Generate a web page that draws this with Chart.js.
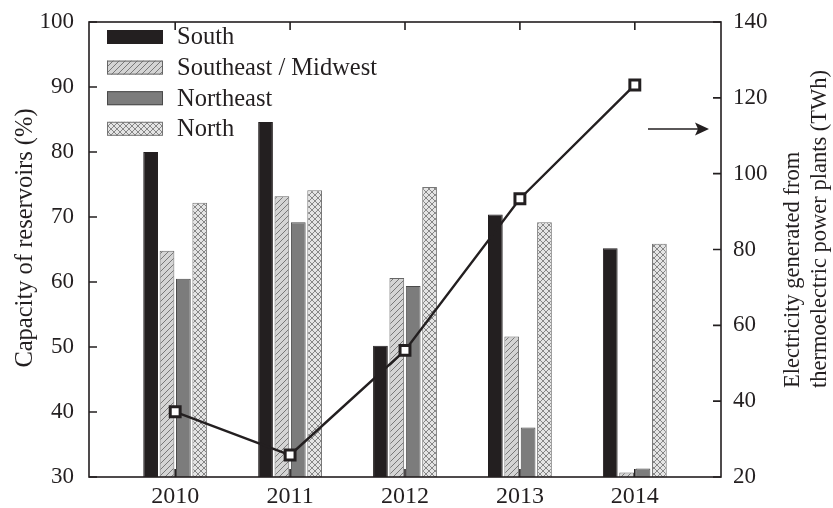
<!DOCTYPE html>
<html>
<head>
<meta charset="utf-8">
<script src="https://cdn.jsdelivr.net/npm/chart.js@4.4.1/dist/chart.umd.min.js"></script>
<style>
  html, body { margin: 0; padding: 0; background: #fff; }
  #wrap { width: 833px; height: 508px; }
</style>
</head>
<body>
<div id="wrap"><canvas id="chart" width="833" height="508"></canvas></div>
<script>
// Chart data
const years = [2010, 2011, 2012, 2013, 2014];
const south = [80.0, 84.6, 50.2, 70.4, 65.2];
const southeastMidwest = [64.8, 73.2, 60.6, 51.6, 30.7];
const northeast = [60.5, 69.2, 59.4, 37.6, 31.3];
const north = [72.2, 74.1, 74.6, 69.2, 65.9];
const thermoTWh = [37.2, 25.8, 53.4, 93.4, 123.4];

const leftTicks = [30, 40, 50, 60, 70, 80, 90, 100];
const rightTicks = [20, 40, 60, 80, 100, 120, 140];

const ink = '#231f20';
const serif = '"Liberation Serif", "Times New Roman", serif';

// Fill patterns for hatched bars
function makePattern(bg, line, cross) {
    const c = document.createElement('canvas');
    c.width = 6; c.height = 6;
    const g = c.getContext('2d');
    g.fillStyle = bg;
    g.fillRect(0, 0, 6, 6);
    g.strokeStyle = line;
    g.lineWidth = 0.9;
    g.beginPath();
    g.moveTo(-1, 7); g.lineTo(7, -1);
    g.moveTo(-1, 1); g.lineTo(1, -1);
    g.moveTo(5, 7); g.lineTo(7, 5);
    if (cross) {
        g.moveTo(-1, -1); g.lineTo(7, 7);
        g.moveTo(5, -1); g.lineTo(7, 1);
        g.moveTo(-1, 5); g.lineTo(1, 7);
    }
    g.stroke();
    return g.createPattern(c, 'repeat');
}

const hatch = makePattern('#d4d4d4', '#6d6d6d', false);
const crossHatch = makePattern('#e4e4e4', '#7a7a7a', true);

const toPoints = arr => arr.map((v, i) => ({ x: years[i], y: v }));

const seriesStyles = [
    { label: 'South', data: south, fill: ink, border: ink },
    { label: 'Southeast / Midwest', data: southeastMidwest, fill: hatch, border: '#666' },
    { label: 'Northeast', data: northeast, fill: '#7c7c7c', border: '#4a4a4a' },
    { label: 'North', data: north, fill: crossHatch, border: '#777' }
];

// Frame, inward ticks, axis titles, legend and arrow
const decorations = {
    id: 'decorations',
    afterDraw(chart) {
        const { ctx, chartArea: a, scales } = chart;
        ctx.save();
        ctx.strokeStyle = ink;
        ctx.lineWidth = 1.6;
        ctx.strokeRect(a.left, a.top, a.right - a.left, a.bottom - a.top);

        ctx.beginPath();
        leftTicks.forEach(v => {
            const y = scales.y.getPixelForValue(v);
            ctx.moveTo(a.left, y); ctx.lineTo(a.left + 8, y);
        });
        rightTicks.forEach(v => {
            const y = scales.y1.getPixelForValue(v);
            ctx.moveTo(a.right, y); ctx.lineTo(a.right - 8, y);
        });
        years.forEach(v => {
            const x = scales.x.getPixelForValue(v);
            ctx.moveTo(x, a.bottom); ctx.lineTo(x, a.bottom - 8);
            ctx.moveTo(x, a.top); ctx.lineTo(x, a.top + 8);
        });
        ctx.stroke();

        // axis titles
        ctx.fillStyle = ink;
        ctx.textBaseline = 'middle';
        ctx.save();
        ctx.font = '24.5px ' + serif;
        ctx.translate(26, 238);
        ctx.rotate(-Math.PI / 2);
        ctx.textAlign = 'center';
        ctx.fillText('Capacity of reservoirs (%)', 0, 0);
        ctx.restore();

        ctx.save();
        ctx.font = '22.5px ' + serif;
        ctx.translate(793, 388);
        ctx.rotate(-Math.PI / 2);
        ctx.textAlign = 'left';
        ctx.fillText('Electricity generated from', 0, 0);
        ctx.fillText('thermoelectric power plants (TWh)', 0, 27);
        ctx.restore();

        // legend
        ctx.font = '24.5px ' + serif;
        ctx.textAlign = 'left';
        seriesStyles.forEach((s, i) => {
            const cy = a.top + 15 + i * 30.6;
            ctx.fillStyle = s.fill;
            ctx.fillRect(107, cy - 7, 56, 14);
            ctx.strokeStyle = s.border;
            ctx.lineWidth = 1;
            ctx.strokeRect(107.5, cy - 6.5, 55, 13);
            ctx.fillStyle = ink;
            ctx.fillText(s.label, 177, cy + 1);
        });

        // arrow pointing at the right axis
        ctx.strokeStyle = ink;
        ctx.fillStyle = ink;
        ctx.lineWidth = 1.6;
        ctx.beginPath();
        ctx.moveTo(648, 129); ctx.lineTo(698, 129);
        ctx.stroke();
        ctx.beginPath();
        ctx.moveTo(709, 129); ctx.lineTo(695, 122.5); ctx.lineTo(698, 129); ctx.lineTo(695, 135.5);
        ctx.closePath();
        ctx.fill();
        ctx.restore();
    }
};

const datasets = [
    {
        type: 'line',
        label: 'Thermoelectric',
        data: toPoints(thermoTWh),
        yAxisID: 'y1',
        borderColor: ink,
        borderWidth: 2.4,
        pointStyle: 'rect',
        pointRadius: 7,
        pointBorderWidth: 3,
        pointBackgroundColor: '#fff',
        pointBorderColor: ink,
        tension: 0
    }
].concat(seriesStyles.map(s => ({
    type: 'bar',
    label: s.label,
    data: toPoints(s.data),
    yAxisID: 'y',
    backgroundColor: s.fill,
    borderColor: s.border,
    borderWidth: 1,
    categoryPercentage: 0.57,
    barPercentage: 0.9
})));

// keep the tick label padding from pushing the plot area down
function fixVertical(width) {
    return axis => {
        axis.width = width;
        axis.paddingTop = 0;
        axis.paddingBottom = 0;
    };
}

new Chart(document.getElementById('chart'), {
    type: 'bar',
    data: { datasets: datasets },
    options: {
        responsive: false,
        animation: false,
        layout: { padding: { top: 22, left: 0, right: 0, bottom: 0 } },
        plugins: { legend: { display: false }, tooltip: { enabled: false } },
        scales: {
            x: {
                type: 'linear',
                min: 2009.25,
                max: 2014.75,
                offset: false,
                grid: { display: false, drawTicks: false },
                border: { display: false },
                afterBuildTicks: axis => { axis.ticks = years.map(v => ({ value: v })); },
                afterFit: axis => { axis.height = 31; axis.paddingLeft = 0; axis.paddingRight = 0; },
                ticks: {
                    color: ink,
                    font: { family: serif, size: 24 },
                    padding: 5,
                    maxRotation: 0,
                    callback: v => String(v)
                }
            },
            y: {
                position: 'left',
                min: 30,
                max: 100,
                grid: { display: false, drawTicks: false },
                border: { display: false },
                afterFit: fixVertical(89),
                ticks: {
                    stepSize: 10,
                    color: ink,
                    font: { family: serif, size: 23 },
                    padding: 15
                }
            },
            y1: {
                position: 'right',
                min: 20,
                max: 140,
                grid: { display: false, drawTicks: false },
                border: { display: false },
                afterFit: fixVertical(112),
                ticks: {
                    stepSize: 20,
                    color: ink,
                    font: { family: serif, size: 23 },
                    padding: 12
                }
            }
        }
    },
    plugins: [decorations]
});
</script>
</body>
</html>
